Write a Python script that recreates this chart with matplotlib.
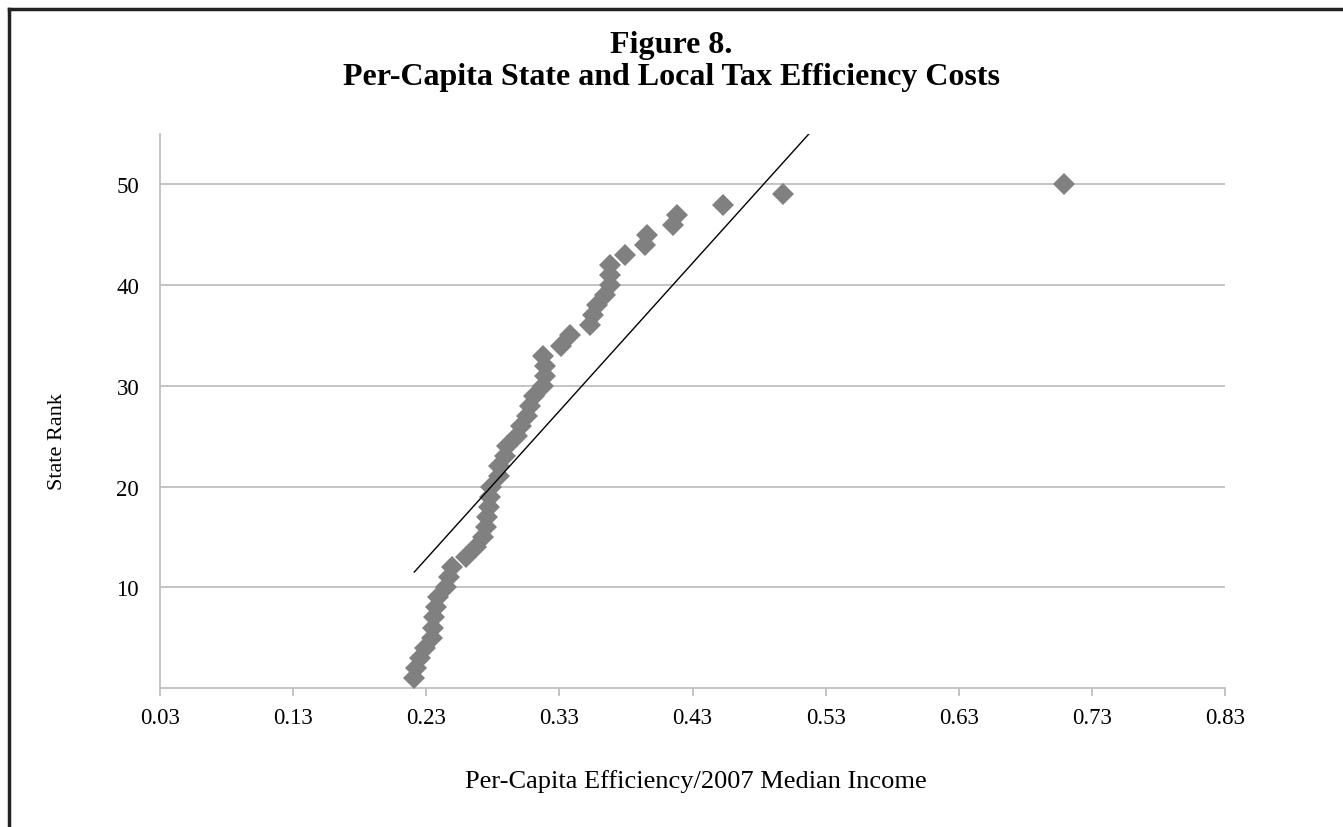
import numpy as np
import matplotlib
matplotlib.use("Agg")
import matplotlib.pyplot as plt
from matplotlib.lines import Line2D

# ---- data ----
state_rank = np.arange(1, 51)
efficiency = [
    0.221, 0.222, 0.225, 0.229, 0.234, 0.235, 0.236, 0.237, 0.239, 0.245,
    0.247, 0.249, 0.260, 0.267, 0.273, 0.275, 0.276, 0.277, 0.278, 0.279,
    0.285, 0.285, 0.289, 0.291, 0.298, 0.301, 0.306, 0.308, 0.311, 0.318,
    0.319, 0.319, 0.318, 0.331, 0.338, 0.353, 0.355, 0.358, 0.364, 0.368,
    0.368, 0.368, 0.379, 0.394, 0.396, 0.415, 0.418, 0.453, 0.498, 0.709,
]
x_ticks = [0.03, 0.13, 0.23, 0.33, 0.43, 0.53, 0.63, 0.73, 0.83]
y_ticks = [10, 20, 30, 40, 50]

plt.rcParams["font.family"] = ["Liberation Serif", "DejaVu Serif"]

W, H = 1343, 828
fig = plt.figure(figsize=(W / 100, H / 100), dpi=100)
ax = fig.add_axes([160 / W, 1 - 689 / H, (1225 - 160) / W, (689 - 135) / H])

grid_col = "#bfbfbf"
ax.set_xlim(0.03, 0.83)
ax.set_ylim(0, 55)
ax.set_yticks(y_ticks)
ax.set_xticks(x_ticks)
ax.set_xticklabels([f"{t:.2f}" for t in x_ticks])
ax.yaxis.grid(True, color=grid_col, linewidth=1.3)
ax.set_axisbelow(True)
for side in ["top", "right"]:
    ax.spines[side].set_visible(False)
for side in ["left", "bottom"]:
    ax.spines[side].set_color(grid_col)
    ax.spines[side].set_linewidth(1.3)
ax.tick_params(axis="x", colors=grid_col, length=6, width=1.3, labelcolor="black",
               labelsize=16.5, pad=8)
ax.tick_params(axis="y", length=0, labelcolor="black", labelsize=16.5, pad=15)

ax.plot(efficiency, state_rank, linestyle="none", marker="D", markersize=11,
        color="#808080", markeredgewidth=0, zorder=3)

# linear trendline (Excel style, least squares of rank on efficiency)
slope, intercept = np.polyfit(efficiency, state_rank, 1)
xs = np.array([min(efficiency), max(efficiency)])
ax.plot(xs, slope * xs + intercept, color="black", linewidth=1.0, zorder=4)

ax.set_xlabel("Per-Capita Efficiency/2007 Median Income", fontsize=19)
ax.xaxis.set_label_coords((696 - 160) / (1225 - 160), (689 - 782) / (689 - 135))
ax.xaxis.label.set_va("center")
ax.set_ylabel("State Rank", fontsize=16)
ax.yaxis.set_label_coords((57 - 160) / (1225 - 160), (689 - 442) / (689 - 135))
ax.yaxis.label.set_va("center")

fig.text(0.5, 1 - 46 / H, "Figure 8.", ha="center", va="center",
         fontsize=23, fontweight="bold")
fig.text(0.5, 1 - 78 / H, "Per-Capita State and Local Tax Efficiency Costs",
         ha="center", va="center", fontsize=23, fontweight="bold")

# frame around the figure (only top and left edges visible in the crop)
fig.add_artist(Line2D([9 / W, 9 / W], [0, 1 - 10 / H], color="#222222",
                      linewidth=2.5, transform=fig.transFigure))
fig.add_artist(Line2D([9 / W, 1], [1 - 10 / H, 1 - 10 / H], color="#222222",
                      linewidth=2.5, transform=fig.transFigure))

fig.savefig("out.png", dpi=100)
